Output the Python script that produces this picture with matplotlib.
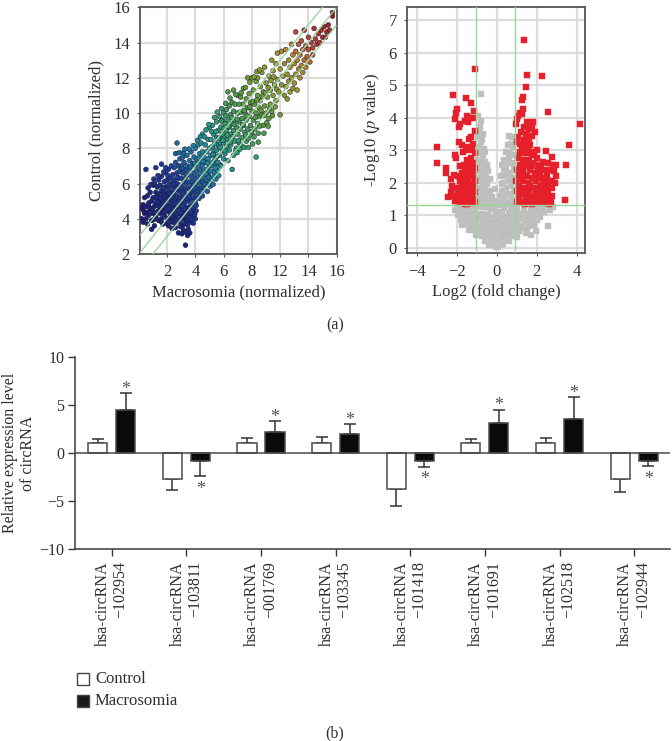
import matplotlib
matplotlib.use("Agg")
import matplotlib.pyplot as plt
from matplotlib.colors import LinearSegmentedColormap, Normalize
import numpy as np

plt.rcParams['font.family'] = ['Liberation Serif', 'DejaVu Serif']
plt.rcParams['mathtext.fontset'] = 'stix'

W, H = 672, 741

# scatter (x on the drawn grid, y as labelled)
low_cloud = [
 (0.2,4.6),(0.2,4.0),(0.3,4.8),(0.3,3.8),(0.4,5.2),(0.4,4.3),(0.5,4.7),(0.5,4.0),(0.6,5.3),(0.6,3.7),
 (0.7,4.9),(0.7,4.2),(0.8,5.5),(0.8,4.5),(0.9,5.0),(0.9,3.9),(0.9,3.4),(1.0,5.9),(1.0,5.2),(1.0,4.3),
 (1.1,6.0),(1.1,4.7),(1.1,3.6),(1.2,5.5),(1.2,4.9),(1.2,4.1),(1.3,5.8),(1.3,5.1),(1.3,4.4),(1.4,6.2),
 (1.4,5.4),(1.4,4.7),(1.4,3.9),(1.5,5.9),(1.5,5.0),(1.5,4.3),(1.6,6.4),(1.6,5.6),(1.6,4.8),(1.6,4.0),
 (1.7,5.2),(1.7,4.5),(1.7,3.7),(1.8,6.1),(1.8,5.5),(1.8,4.9),(1.8,4.2),(1.9,6.6),(1.9,5.8),(1.9,5.1),
 (1.9,4.6),(2.0,6.2),(2.0,5.4),(2.0,4.8),(2.0,4.0),(2.1,6.8),(2.1,5.7),(2.1,5.1),(2.1,4.4),(2.1,3.6),
 (2.2,6.3),(2.2,5.3),(2.2,4.7),(2.2,4.1),(2.3,7.0),(2.3,6.0),(2.3,5.5),(2.3,4.9),(2.3,4.4),(2.4,6.5),
 (2.4,5.8),(2.4,5.1),(2.4,4.6),(2.4,3.8),(2.5,6.9),(2.5,6.2),(2.5,5.4),(2.5,4.8),(2.5,4.2),(2.6,7.2),
 (2.6,5.8),(2.6,5.1),(2.6,4.5),(2.6,3.5),(2.7,6.6),(2.7,6.0),(2.7,5.3),(2.7,4.7),(2.7,4.0),(2.8,7.0),
 (2.8,6.3),(2.8,5.6),(2.8,5.0),(2.8,4.3),(2.8,3.2),(2.9,7.4),(2.9,6.7),(2.9,5.9),(2.9,5.2),(2.9,4.6),
 (2.9,3.8),(3.0,7.0),(3.0,6.3),(3.0,5.5),(3.0,4.9),(3.0,4.2),(3.1,7.5),(3.1,6.6),(3.1,5.8),(3.1,5.2),
 (3.1,4.5),(3.1,3.6),(3.2,7.2),(3.2,6.1),(3.2,5.5),(3.2,4.8),(3.2,4.0),(3.3,6.8),(3.3,6.3),(3.3,5.7),
 (3.3,5.0),(3.3,4.3),(3.3,2.5),(3.4,7.6),(3.4,7.0),(3.4,6.0),(3.4,5.3),(3.4,4.6),(3.4,3.9),(3.5,6.5),
 (3.5,5.7),(3.5,5.0),(3.5,4.3),(3.5,3.4),(3.6,7.3),(3.6,6.8),(3.6,6.1),(3.6,5.4),(3.6,4.7),(3.6,3.8),
 (3.7,7.8),(3.7,6.4),(3.7,5.8),(3.7,5.1),(3.7,4.3),(3.8,7.1),(3.8,6.1),(3.8,5.5),(3.8,4.8),(3.8,4.1),
 (3.9,7.5),(3.9,6.6),(3.9,5.9),(3.9,5.2),(3.9,4.5),(4.0,8.0),(4.0,7.0),(4.0,6.3),(4.0,5.5),(4.0,4.9),
 (4.0,4.0),(4.1,7.4),(4.1,6.7),(4.1,6.0),(4.1,5.2),(4.2,8.2),(4.2,7.1),(4.2,6.4),(4.2,5.7),(4.3,7.7),
 (4.3,6.8),(4.3,6.1),(4.3,5.4),(4.4,8.3),(4.4,7.3),(4.4,6.5),(4.4,5.8),(4.5,8.8),(4.5,7.8),(4.5,7.0),
 (4.5,6.2),(4.5,5.3),(4.6,7.5),(4.6,6.7),(4.6,5.7),(4.7,8.2),(4.7,7.2),(4.7,6.3),(4.8,7.8),(4.8,6.8),
 (4.8,6.0),(4.9,8.5),(4.9,7.4),(4.9,6.5),(5.0,9.2),(5.0,8.0),(5.0,7.0),(5.0,6.1),(5.1,7.6),(5.1,6.7),
 (0.5,6.8),(1.2,6.9),(1.6,7.1),(1.9,6.9),(2.7,8.3),(2.6,7.7),
]
low_fill = [
 (0.35,4.45),(0.55,4.35),(0.75,4.65),(0.95,4.55),(1.15,4.35),(1.25,5.25),(1.35,4.95),(1.45,4.45),(1.55,5.35),(1.65,4.65),
 (1.75,5.75),(1.85,4.45),(1.95,5.35),(2.05,4.55),(2.15,5.95),(2.25,4.35),(2.35,5.25),(2.45,4.05),(2.55,5.65),(2.65,4.25),
 (2.75,5.75),(2.85,4.75),(2.95,5.55),(3.05,4.05),(3.15,5.45),(3.25,4.55),(3.35,5.15),(3.45,4.15),(3.55,5.25),(3.65,4.45),
 (3.75,5.65),(3.85,4.65),(3.95,5.75),(4.05,4.75),(4.15,5.55),(4.25,5.15),(4.35,5.65),(4.45,5.55),(4.55,6.05),(4.65,5.95),
 (4.75,6.55),(4.85,5.55),(4.95,6.35),(5.05,5.85),(5.15,6.25),(5.25,5.95),(5.35,6.65),(5.45,6.25),(5.55,6.75),(5.65,6.45),
 (1.55,5.15),(1.85,5.25),(2.15,5.45),(2.35,4.15),(2.65,4.85),(2.95,4.35),(3.25,3.75),(3.45,3.65),(3.55,4.05),(3.75,3.95),
 (3.85,3.75),(3.95,4.25),(4.05,4.45),(2.45,5.95),(2.75,6.35),(3.05,6.85),(3.35,6.55),(3.65,6.95),(3.95,7.15),(4.25,7.45),
 (4.55,7.25),(4.85,7.15),(5.15,7.05),(5.45,7.15),(5.75,7.05),(3.15,7.75),(3.55,7.95),(3.85,8.15),(4.15,8.45),(4.35,8.65),
 (2.85,7.75),(3.25,7.95),(1.05,6.25),(1.35,6.45),(1.75,6.65),(2.05,6.45),(0.85,5.95),(0.65,5.75),(1.05,3.95),(1.55,3.85),
 (1.95,3.75),(2.25,3.85),(2.55,3.75),(2.95,3.55),(3.15,3.35),(3.35,3.25),(3.05,3.15),(2.35,3.45),(3.45,3.05),(3.6,3.2),
]
mid_cloud = [
 (5.1,8.5),(5.2,9.3),(5.2,8.1),(5.2,7.2),(5.3,8.8),(5.3,7.8),(5.3,6.4),(5.4,8.3),(5.4,7.4),(5.4,6.9),
 (5.5,9.5),(5.5,8.6),(5.5,7.9),(5.6,9.0),(5.6,8.2),(5.6,7.2),(5.7,9.8),(5.7,8.6),(5.7,7.6),(5.8,9.2),
 (5.8,8.3),(5.8,7.0),(5.9,9.6),(5.9,8.8),(5.9,7.9),(6.0,10.0),(6.0,9.1),(6.0,8.3),(6.0,7.4),(6.1,9.4),
 (6.1,8.6),(6.1,7.7),(6.2,10.2),(6.2,9.0),(6.2,8.1),(6.3,11.2),(6.3,9.6),(6.3,8.5),(6.3,7.3),(6.4,10.4),
 (6.4,9.2),(6.4,7.9),(6.5,9.9),(6.5,8.8),(6.5,8.2),(6.6,10.6),(6.6,9.4),(6.6,6.8),(6.7,11.3),(6.7,10.1),
 (6.7,9.0),(6.7,7.6),(6.8,10.5),(6.8,9.6),(6.8,8.4),(6.9,9.2),(6.9,8.0),(7.0,11.0),(7.0,10.0),(7.0,8.8),
 (7.1,10.5),(7.1,9.5),(7.1,8.3),(7.2,10.9),(7.2,9.1),(7.3,10.1),(7.3,9.7),(7.3,8.6),(7.4,11.4),(7.4,10.5),
 (7.4,9.3),(7.5,10.0),(7.5,8.9),(7.6,10.8),(7.6,9.6),(7.6,8.4),(7.7,12.0),(7.7,10.3),(7.7,9.1),(7.8,11.1),
 (7.8,9.8),(7.9,10.6),(7.9,9.3),(8.0,12.0),(8.0,10.1),(8.0,8.8),(8.1,11.3),(8.1,9.6),(8.2,10.5),(8.2,9.1),
 (8.3,11.8),(8.3,10.0),(8.3,7.5),(8.4,12.0),(8.4,11.0),(8.4,9.4),(8.5,10.3),(8.5,9.8),(8.6,11.5),(8.6,10.7),
 (8.7,12.3),(8.7,9.9),(8.8,11.2),(8.8,9.3),(8.9,12.6),(8.9,10.4),(9.0,11.7),(9.0,10.0),(9.1,10.9),(9.2,12.1),
 (9.2,9.7),(9.3,11.3),(9.3,10.5),(9.4,13.0),(9.4,10.1),(9.5,12.4),(9.5,11.0),(9.6,11.6),(9.7,12.8),(9.7,10.7),
]
mid_fill = [
 (5.15,8.95),(5.25,7.65),(5.35,8.25),(5.45,8.95),(5.55,7.55),(5.65,8.55),(5.75,8.05),(5.85,9.55),(5.95,8.45),(6.05,7.85),
 (6.15,9.85),(6.25,8.75),(6.35,9.25),(6.45,8.35),(6.55,9.75),(6.65,8.65),(6.75,9.35),(6.85,7.85),(6.95,9.65),(7.05,8.45),
 (7.15,10.05),(7.25,8.15),(7.35,9.35),(7.45,10.15),(7.55,8.75),(7.65,9.85),(7.75,8.55),(7.85,10.35),(7.95,8.95),(8.05,10.65),
 (8.15,8.65),(8.25,9.75),(8.35,10.75),(8.45,8.35),(8.55,9.25),(8.65,10.15),(8.75,10.95),(8.85,9.85),(8.95,11.15),(9.05,9.45),
 (9.15,11.45),(9.25,10.25),(9.35,11.85),(9.45,9.85),(9.55,12.05),(9.65,10.35),(9.75,11.35),(7.25,11.15),(7.55,11.45),(7.85,11.75),
 (8.15,12.05),(8.35,12.35),(8.55,12.45),(6.85,11.05),(6.45,10.85),(6.15,10.55),(5.85,10.25),(5.55,10.05),(5.35,9.75),(4.95,9.35),
 (4.75,9.05),(4.65,8.65),(6.95,7.75),(7.15,7.95),(7.45,8.05),(7.75,8.05),(8.05,8.25),(8.45,8.85),(8.85,8.85),(9.15,9.25),
]
high_cloud = [
 (9.8,13.4),(9.8,11.9),(9.9,11.2),(10.0,12.5),(10.0,9.9),(10.1,13.5),(10.1,11.6),(10.2,12.1),(10.3,11.0),(10.3,12.8),
 (10.4,13.6),(10.4,11.5),(10.5,12.2),(10.5,10.8),(10.6,13.0),(10.6,11.8),(10.7,12.6),(10.7,11.2),(10.8,13.9),(10.8,12.0),
 (10.9,13.3),(10.9,11.4),(11.0,12.8),(11.0,11.7),(11.1,14.6),(11.1,13.5),(11.1,12.2),(11.2,11.3),(11.2,13.0),(11.3,12.5),
 (11.3,13.9),(11.4,12.0),(11.4,13.3),(11.5,14.1),(11.5,12.7),(11.6,13.6),(11.6,12.3),(11.7,14.7),(11.7,13.0),(11.8,13.8),
 (11.8,12.6),(11.9,13.2),(12.0,14.3),(12.0,13.6),(12.1,12.9),(12.2,14.0),(12.3,13.3),(12.3,13.7),(12.4,14.8),(12.5,14.2),
 (12.6,13.9),(12.7,14.5),(12.8,14.0),(12.9,14.7),(13.0,14.3),(13.1,14.9),(13.2,14.3),(13.3,14.6),(13.4,15.0),(13.5,14.7),
 (13.7,15.5),(13.7,15.7),
]
mean_lines = [1, 2, 3]

# volcano
red_left = [
 (-1.1,5.5),(-2.2,4.7),(-1.55,4.6),(-1.3,4.45),(-2.0,4.25),(-2.05,4.15),(-1.15,4.2),(-2.1,3.95),(-1.5,4.05),(-1.35,4.0),
 (-1.6,3.9),(-1.45,3.85),(-1.2,4.0),(-1.9,3.7),(-1.85,3.8),(-1.1,3.6),(-1.3,3.4),(-1.4,3.35),(-1.2,3.2),(-1.9,3.25),
 (-1.75,3.15),(-3.0,3.1),(-1.45,3.1),(-1.25,3.0),(-1.7,2.95),(-1.55,3.0),(-1.1,2.9),(-2.1,2.85),(-2.05,2.75),(-3.0,2.6),
 (-1.3,2.75),(-1.5,2.7),(-1.2,2.6),(-1.4,2.55),(-1.65,2.55),(-2.55,2.45),(-2.55,2.3),(-1.85,2.5),(-1.1,2.45),(-1.35,2.35),
 (-1.55,2.35),(-1.75,2.3),(-2.15,2.25),(-1.95,2.2),(-1.2,2.2),(-1.45,2.15),(-1.65,2.1),(-1.85,2.05),(-2.3,2.1),(-1.1,2.05),
 (-1.3,2.0),(-1.55,1.95),(-1.75,1.9),(-2.25,1.9),(-2.0,1.85),(-1.2,1.85),(-1.45,1.8),(-1.65,1.75),(-1.85,1.7),(-2.3,1.7),
 (-1.1,1.7),(-1.3,1.65),(-1.55,1.6),(-1.75,1.55),(-2.0,1.6),(-2.45,1.55),(-1.95,1.5),(-1.2,1.5),(-1.4,1.45),(-1.65,1.45),
 (-1.85,1.42),(-2.1,1.45),(-1.1,1.4),(-1.3,1.38),(-1.5,1.36),(-1.6,1.34),
 (-1.35,2.5),(-1.6,2.4),(-1.2,2.35),(-1.5,2.25),(-1.75,2.15),(-1.15,1.95),(-1.4,1.9),(-1.65,1.88),(-1.9,1.85),(-1.25,1.75),
 (-1.55,1.7),(-1.75,1.68),(-1.95,1.7),(-2.15,1.6),(-1.45,1.55),(-1.25,1.55),(-1.6,1.52),(-1.85,1.55),
]
red_right = [
 (1.35,6.4),(1.5,5.3),(2.25,5.27),(1.45,4.95),(1.3,4.63),(1.25,4.55),(2.55,4.18),(1.3,4.25),(1.15,4.15),(1.05,4.05),
 (1.25,4.1),(1.0,3.95),(1.8,3.88),(1.5,3.85),(4.15,3.8),(1.65,3.8),(0.95,3.8),(1.35,3.7),(1.75,3.7),(1.6,3.65),
 (1.9,3.55),(1.45,3.5),(1.05,3.4),(1.75,3.45),(1.6,3.3),(1.0,3.25),(1.4,3.2),(1.25,3.1),(1.65,3.15),(3.6,3.15),
 (2.0,3.0),(2.45,2.97),(1.15,2.95),(1.45,2.9),(1.75,2.85),(2.75,2.8),(1.05,2.75),(1.3,2.7),(1.6,2.7),(2.0,2.75),
 (2.3,2.65),(1.85,2.6),(2.55,2.6),(1.15,2.55),(1.45,2.5),(2.8,2.55),(2.95,2.55),(3.45,2.53),(2.1,2.5),(1.0,2.4),
 (1.3,2.35),(1.65,2.4),(1.9,2.3),(2.35,2.4),(2.65,2.4),(2.85,2.35),(1.1,2.2),(1.5,2.2),(1.75,2.15),(2.15,2.25),
 (2.5,2.2),(2.95,2.2),(0.95,2.05),(1.3,2.05),(1.6,2.0),(1.95,2.05),(2.3,2.05),(2.75,2.05),(2.9,2.0),(1.1,1.9),
 (1.45,1.85),(1.8,1.85),(2.15,1.9),(2.55,1.9),(2.75,1.85),(1.0,1.75),(1.3,1.7),(1.6,1.7),(1.95,1.7),(2.35,1.75),
 (1.1,1.55),(1.45,1.55),(1.75,1.55),(2.1,1.55),(2.45,1.6),(2.75,1.6),(1.0,1.42),(1.3,1.42),(1.6,1.42),(1.9,1.42),
 (2.2,1.4),(2.5,1.42),(2.7,1.42),(3.4,1.47),(1.4,1.33),(1.75,1.33),(2.6,1.33),
 (1.2,3.55),(1.5,3.45),(1.35,3.3),(1.15,3.2),(1.55,3.05),(1.85,2.95),(1.3,2.9),(1.55,2.6),(1.2,2.4),(1.75,2.5),
 (2.05,2.4),(2.2,2.55),(1.4,2.2),(1.9,2.15),(2.25,2.15),(2.6,2.05),(1.2,2.1),(1.65,1.9),(2.0,1.85),(2.35,1.9),
 (1.25,1.85),(1.55,1.55),(1.85,1.6),(2.2,1.7),(2.55,1.72),(1.15,1.65),(1.45,1.7),(2.05,1.42),(2.35,1.52),
]
grey_pts = [
 (-0.8,4.72),(-0.95,4.05),(-0.8,3.9),(-0.9,3.6),(-0.7,3.5),(-0.95,3.4),(-0.8,3.25),(-0.9,3.1),(-0.65,3.05),(-0.85,2.9),
 (-0.7,2.8),(-0.95,2.7),(-0.6,2.65),(-0.8,2.55),(-0.65,2.4),(-0.45,2.35),(-0.9,2.35),(-0.75,2.2),(-0.55,2.15),(-0.95,2.05),
 (-0.7,2.0),(-0.5,1.95),(-0.85,1.85),(-0.6,1.8),(-0.9,1.6),(-0.7,1.65),(-0.45,1.6),(-0.8,1.45),(-0.55,1.45),(-0.35,1.4),
 (-0.1,1.8),(-0.2,1.3),(0.6,3.45),(0.75,3.4),(0.55,3.15),(0.8,3.1),(0.45,2.95),(0.65,2.9),(0.85,2.85),(0.35,2.7),
 (0.55,2.65),(0.75,2.6),(0.25,2.55),(0.45,2.45),(0.85,2.45),(0.65,2.3),(0.4,2.2),(0.8,2.15),(0.55,2.05),(0.3,2.0),
 (0.7,1.9),(0.45,1.85),(0.25,1.75),(0.85,1.75),(0.6,1.65),(0.35,1.55),(0.8,1.5),(0.5,1.4),(0.2,1.4),(0.7,1.35),
 (-2.0,1.25),(-2.1,1.15),(-1.85,1.2),(-1.6,1.2),(-1.35,1.22),(-1.1,1.22),(-0.85,1.25),(-0.6,1.25),(-0.35,1.2),(-0.1,1.15),
 (-1.95,1.0),(-1.7,1.05),(-1.45,1.05),(-1.2,1.05),(-0.95,1.05),(-0.7,1.05),(-0.45,1.02),(-0.2,0.95),(-1.8,0.85),(-1.55,0.9),
 (-1.3,0.88),(-1.05,0.85),(-0.8,0.88),(-0.55,0.85),(-0.3,0.8),(-1.75,0.7),(-1.45,0.72),(-1.2,0.7),(-0.95,0.68),(-0.7,0.7),
 (-0.45,0.68),(-0.2,0.6),(-1.4,0.55),(-1.1,0.55),(-0.85,0.5),(-0.6,0.52),(-0.35,0.5),(-1.05,0.4),(-0.75,0.35),(-0.5,0.35),
 (-0.2,0.38),(-0.6,0.22),(-0.35,0.2),(-0.1,0.2),(-0.4,0.1),(-0.2,0.08),(-0.05,0.02),(0.05,0.03),(0.15,0.1),(0.3,0.12),
 (0.1,0.22),(0.35,0.25),(0.6,0.2),(0.15,0.38),(0.45,0.38),(0.75,0.35),(1.0,0.32),(0.2,0.55),(0.5,0.55),(0.8,0.52),
 (1.1,0.5),(1.45,0.45),(1.7,0.4),(1.95,0.52),(0.15,0.72),(0.4,0.72),(0.7,0.7),(1.0,0.7),(1.3,0.68),(1.6,0.66),
 (2.55,0.67),(0.2,0.9),(0.5,0.88),(0.8,0.88),(1.1,0.88),(1.4,0.85),(1.7,0.85),(2.0,0.85),(0.25,1.05),(0.6,1.08),
 (0.9,1.05),(1.2,1.05),(1.5,1.05),(1.8,1.05),(2.1,1.05),(2.35,1.1),(0.35,1.22),(0.7,1.22),(1.0,1.22),(1.35,1.22),
 (1.7,1.22),(2.0,1.2),(2.3,1.2),(2.65,1.15),(2.8,1.25),
 (-0.85,3.7),(-0.75,3.35),(-0.6,2.95),(-0.75,2.65),(-0.5,2.55),(-0.85,2.15),(-0.6,2.3),(-0.35,2.1),(-0.75,1.75),(-0.55,1.65),
 (-0.35,1.75),(-0.65,1.5),(-0.25,1.55),(-0.9,1.3),(-0.5,1.3),(0.7,3.2),(0.6,2.75),(0.35,2.4),(0.5,2.25),(0.7,2.05),
 (0.2,2.2),(0.25,1.95),(0.5,1.65),(0.7,1.6),(0.15,1.6),(0.4,1.35),(0.85,1.3),(-0.1,1.45),(0.05,1.3),(-0.1,0.75),
 (0.05,0.55),(0.05,0.85),(0.1,1.1),(-0.05,1.0),(-1.6,0.8),(-0.95,0.95),(-0.6,0.95),(-1.3,0.6),(-0.9,0.6),(-0.55,0.6),
 (0.35,0.95),(0.65,0.98),(0.95,0.95),(1.25,0.95),(1.55,0.95),(1.85,0.95),(0.35,0.6),(0.65,0.6),(0.9,0.6),(1.2,0.6),
 (1.5,0.58),(1.85,0.7),(2.15,0.95),(0.35,0.48),(0.65,0.42),(0.25,0.3),(-0.3,0.28),(-0.1,0.48),(-0.5,0.45),(-0.15,0.3),
]
volcano_vlines = [-1.05, 0.93]
volcano_hline = 1.3

# bars
circ_ids = ['102954', '103811', '001769', '103345', '101418', '101691', '102518', '102944']
control = [1.0, -2.75, 1.0, 1.0, -3.82, 0.97, 1.0, -2.75]
macrosomia = [4.5, -0.9, 2.15, 2.0, -0.87, 3.1, 3.5, -0.87]
control_err = [0.46, 1.15, 0.53, 0.6, 1.78, 0.45, 0.56, 1.38]
macrosomia_err = [1.68, 1.57, 1.11, 0.95, 0.59, 1.38, 2.26, 0.55]

TEXT = '#2f2f2f'
EDGE = '#4a4a4a'
GRID = '#dcdcdc'
GREEN = '#9bd59b'


def px_axes(fig, left, top, right, bottom):
    return fig.add_axes([left / W, 1 - bottom / H, (right - left) / W, (bottom - top) / H])


fig = plt.figure(figsize=(W / 100, H / 100), dpi=100)

# scatter panel
ax = px_axes(fig, 140.3, 7.3, 336.7, 254)
cmap = LinearSegmentedColormap.from_list('ma', [
    (0.0, '#1f1f78'), (0.16, '#1f3f98'), (0.28, '#1c86a0'), (0.38, '#2b9c76'),
    (0.54, '#5a9e35'), (0.68, '#9a9a28'), (0.77, '#b58025'), (0.85, '#c0392b'), (1.0, '#8a1a1a')])
pts = np.array(low_cloud + low_fill + mid_cloud + mid_fill + high_cloud)
ax.scatter(pts[:, 0], pts[:, 1], c=pts[:, 0] + pts[:, 1], cmap=cmap, norm=Normalize(5, 30),
           s=12, edgecolors='#1a1a38', linewidths=0.35, zorder=3)
ax.set_xlim(0.1, 13.95)
ax.set_ylim(2, 16)
ax.set_xticks([2, 4, 6, 8, 10, 12, 14])
ax.set_xticklabels(['2', '4', '6', '8', '12', '14', '16'])
ax.set_yticks([2, 4, 6, 8, 10, 12, 14, 16])
ax.grid(True, color=GRID, lw=1.6, zorder=0)
ax.set_axisbelow(True)
xs = np.array([0.1, 13.95])
for c in mean_lines:
    ax.plot(xs, xs + c, color=GREEN, lw=1.0, zorder=4)
ax.set_xlabel('Macrosomia (normalized)', fontsize=12, color=TEXT, labelpad=3)
ax.set_ylabel('Control (normalized)', fontsize=12, color=TEXT, labelpad=6)

# volcano panel
ax2 = px_axes(fig, 407.3, 7.3, 585, 253.3)
grey = np.array(grey_pts)
red = np.array(red_left + red_right)
ax2.scatter(grey[:, 0], grey[:, 1], marker='s', s=21, c='#bdbdbd', edgecolors='#cacaca', linewidths=0.3, zorder=3)
ax2.scatter(red[:, 0], red[:, 1], marker='s', s=21, c='#e5202a', edgecolors='#e5202a', linewidths=0.3, zorder=4)
ax2.set_xlim(-4.47, 4.42)
ax2.set_ylim(-0.17, 7.39)
ax2.set_xticks([-4, -2, 0, 2, 4])
ax2.set_xticklabels(['\u22124', '\u22122', '0', '2', '4'])
ax2.set_yticks(range(8))
ax2.grid(True, color=GRID, lw=1.6, zorder=0)
ax2.set_axisbelow(True)
for v in volcano_vlines:
    ax2.axvline(v, color=GREEN, lw=1.0, zorder=5)
ax2.axhline(volcano_hline, color=GREEN, lw=1.0, zorder=5)
ax2.set_xlabel('Log2 (fold change)', fontsize=12, color=TEXT, labelpad=3)
ax2.set_ylabel('-Log10 ($\\mathit{p}$ value)', fontsize=12, color=TEXT, labelpad=5)

for a in (ax, ax2):
    for s in a.spines.values():
        s.set_color('#555555')
        s.set_linewidth(1.3)
    a.tick_params(labelsize=12, colors=TEXT, length=2.5, width=0.8, color='#555555', pad=5)

# bar panel
ax3 = px_axes(fig, 75.3, 356.7, 670, 548.7)
pos = np.arange(len(circ_ids))
off, bw = 0.1877, 0.255
ax3.bar(pos - off, control, bw, color='white', edgecolor=EDGE, linewidth=1.1, zorder=3)
ax3.bar(pos + off, macrosomia, bw, color='#0a0a0a', edgecolor=EDGE, linewidth=1.1, zorder=3)
for i in pos:
    for xc, v, e, star in ((i - off, control[i], control_err[i], False),
                           (i + off, macrosomia[i], macrosomia_err[i], True)):
        sign = 1 if v > 0 else -1
        ax3.errorbar(xc, v, yerr=[[e if sign < 0 else 0], [e if sign > 0 else 0]], color='#333333',
                     elinewidth=1.1, capsize=4.5, capthick=1.1, zorder=2)
        if star:
            ax3.text(xc, v + sign * e + (0.45 if sign > 0 else -1.35), '*', ha='center', va='center',
                     fontsize=13, color='#555555')
ax3.axhline(0, color=EDGE, lw=1.1, zorder=4)
ax3.set_xlim(-0.488, 7.48)
ax3.set_ylim(-10, 10)
ax3.set_yticks([-10, -5, 0, 5, 10])
ax3.set_yticklabels(['\u221210', '\u22125', '0', '5', '10'])
ax3.set_xticks(pos)
ax3.set_xticklabels([f'hsa-circRNA\n\u2212{c}' for c in circ_ids], rotation=90, ha='center', va='top',
                    multialignment='right', linespacing=1.15)
ax3.spines['top'].set_visible(False)
ax3.spines['right'].set_visible(False)
for s in ('left', 'bottom'):
    ax3.spines[s].set_color('#3a3a3a')
    ax3.spines[s].set_linewidth(1.1)
ax3.tick_params(labelsize=11.5, colors=TEXT, length=5, width=1, color='#3a3a3a', pad=3)
ax3.tick_params(axis='x', pad=4)
fig.text(19 / W, 1 - 453 / H, 'Relative expression level\nof circRNA', rotation=90, fontsize=11.5, color=TEXT,
         ha='center', va='center', multialignment='center', linespacing=1.15)

# legend and panel letters, placed in pixels
for y, fc, lab in ((679, 'white', 'Control'), (701, '#1a1a1a', 'Macrosomia')):
    fig.patches.append(plt.Rectangle((76.5 / W, 1 - (y + 6) / H), 12 / W, 12 / H, transform=fig.transFigure,
                                     facecolor=fc, edgecolor='#444444', linewidth=1))
    fig.text(95 / W, 1 - y / H, lab, fontsize=12, color=TEXT, va='center', ha='left')
fig.text(335 / W, 1 - 325 / H, '(a)', fontsize=11.5, color=TEXT, ha='center', va='center')
fig.text(335 / W, 1 - 733 / H, '(b)', fontsize=11.5, color=TEXT, ha='center', va='center')

fig.savefig('out.png', dpi=100)
